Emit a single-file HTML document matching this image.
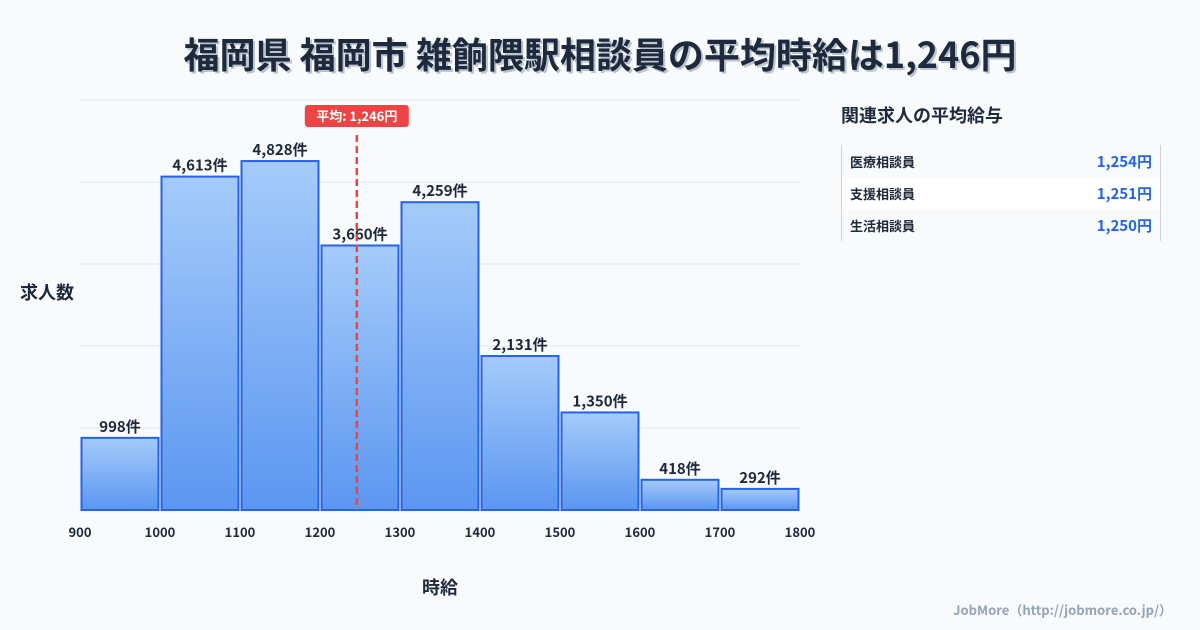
<!DOCTYPE html>
<html><head><meta charset="utf-8">
<style>
body{margin:0;width:1200px;height:630px;background:#f8fafc;font-family:"Noto Sans CJK JP","Liberation Sans",sans-serif;overflow:hidden;position:relative;color:#1e293b}
.title{position:absolute;left:0;width:1200px;top:27px;text-align:center;font-size:36px;font-weight:bold;color:#1e293b;text-shadow:2px 2px 0 #b9c3d1;line-height:52px}
.side{position:absolute;left:841px;top:101px;font-size:18px;font-weight:bold;line-height:28px}
.tbl{position:absolute;left:841px;top:145px;width:318px;border-left:1px solid #cbd5e1;border-right:1px solid #cbd5e1}
.row{height:32px;display:flex;justify-content:space-between;align-items:center;padding:0 8px;font-size:13px;font-weight:bold}
.row .v{color:#2563eb;font-size:15px}
.foot{position:absolute;right:28px;top:600px;font-size:13px;color:#94a3b8;font-weight:bold}
</style></head><body>
<div class="title">福岡県 福岡市 雑餉隈駅相談員の平均時給は1,246円</div>
<svg id="chart" width="1200" height="630" style="position:absolute;left:0;top:0;font-family:'Noto Sans CJK JP','Liberation Sans',sans-serif">
<defs><linearGradient id="g" x1="0" y1="0" x2="0" y2="1"><stop offset="0" stop-color="#a5cbfa"/><stop offset="1" stop-color="#5b96f0"/></linearGradient></defs>
</svg>
<div class="side">関連求人の平均給与</div>
<div class="tbl">
<div class="row"><span>医療相談員</span><span class="v">1,254円</span></div>
<div class="row" style="background:#fff"><span>支援相談員</span><span class="v">1,251円</span></div>
<div class="row"><span>生活相談員</span><span class="v">1,250円</span></div>
</div>
<div class="foot">JobMore（http://jobmore.co.jp/）</div>
<script>
const binStarts=[900,1000,1100,1200,1300,1400,1500,1600,1700];
const counts=[998,4613,4828,3660,4259,2131,1350,418,292];
const xTicks=[900,1000,1100,1200,1300,1400,1500,1600,1700,1800];
const avgWage=1246;
const NS="http://www.w3.org/2000/svg";
const svg=document.getElementById('chart');
const x0=80,x1=800,yB=510,yT=100;
const yMax=Math.max(...counts)*1.175;
const xs=v=>x0+(v-900)/(1800-900)*(x1-x0);
const ys=v=>yB-v/yMax*(yB-yT);
function mk(t,a){const e=document.createElementNS(NS,t);for(const k in a)e.setAttribute(k,a[k]);svg.appendChild(e);return e;}
for(let i=0;i<=5;i++){const y=yB-i*(yB-yT)/5;
const l=mk('line',{x1:x0,x2:x1,y1:y,y2:y,stroke:'#e2e8f0','stroke-width':1});

}
binStarts.forEach((b,i)=>{
const xa=xs(b)+1.5,xb=xs(b+100)-1.5,y=ys(counts[i]);
const r=mk('rect',{x:xa,y:y,width:xb-xa,height:yB-y,fill:'url(#g)',stroke:'#2563eb','stroke-width':2});


const t=mk('text',{x:(xa+xb)/2,y:y-6,'text-anchor':'middle','font-size':15,'font-weight':'bold',fill:'#1e293b'});
t.textContent=counts[i].toLocaleString('en-US')+'件';


});
xTicks.forEach(v=>{
const t=mk('text',{x:xs(v),y:537,'text-anchor':'middle','font-size':13,'font-weight':'bold',fill:'#1e293b'});
t.textContent=v;


});
const ax2=xs(avgWage);
const al=mk('line',{x1:ax2,x2:ax2,y1:135,y2:yB,stroke:'#ef4444','stroke-width':2.5,'stroke-dasharray':'7,4'});


const ab=mk('rect',{x:ax2-52,y:105,width:104,height:22,rx:3,fill:'#ef4444'});


const at=mk('text',{x:ax2,y:121,'text-anchor':'middle','font-size':13,'font-weight':'bold',fill:'#fff'});
at.textContent='平均: '+avgWage.toLocaleString('en-US')+'円';


const yt=mk('text',{x:20,y:299,'font-size':18,'font-weight':'bold',fill:'#1e293b'});
yt.textContent='求人数';


const xt=mk('text',{x:440,y:594,'text-anchor':'middle','font-size':18,'font-weight':'bold',fill:'#1e293b'});
xt.textContent='時給';


</script>
</body></html>
